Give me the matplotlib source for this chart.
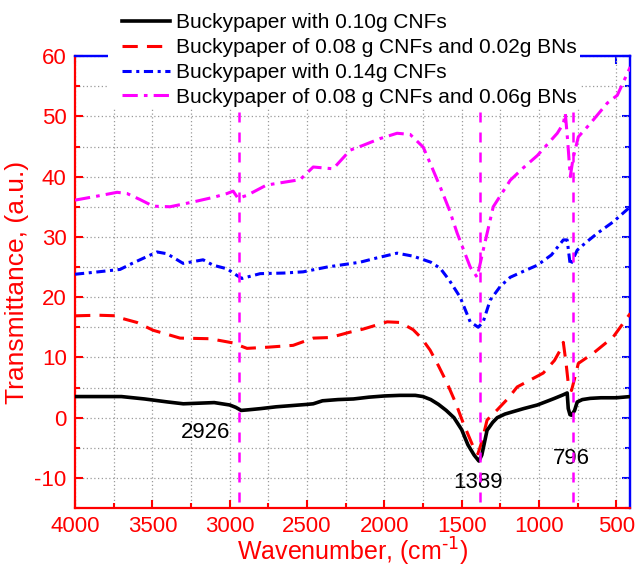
import matplotlib.pyplot as plt
from matplotlib.patches import Rectangle
from matplotlib.ticker import MultipleLocator

plt.rcParams['font.family'] = ['Liberation Sans', 'DejaVu Sans']
plt.rcParams['axes.unicode_minus'] = False

# black: Buckypaper with 0.10g CNFs
wn_black = [4000, 3850, 3700, 3550, 3400, 3300, 3200, 3100, 3000, 2960, 2926, 2880,
            2800, 2700, 2600, 2500, 2460, 2400, 2300, 2200, 2100, 2000, 1900, 1800,
            1750, 1700, 1650, 1600, 1550, 1500, 1460, 1420, 1389, 1370, 1336, 1300,
            1270, 1220, 1167, 1100, 1011, 950, 900, 843, 818, 811, 800, 790, 770,
            753, 720, 669, 600, 500, 410]
black = [3.5, 3.5, 3.5, 3.1, 2.6, 2.3, 2.4, 2.5, 2.1, 1.7, 1.2, 1.3,
         1.5, 1.8, 2.0, 2.2, 2.3, 2.8, 3.0, 3.1, 3.4, 3.6, 3.7, 3.7,
         3.5, 3.0, 2.2, 1.2, 0.0, -2.0, -4.5, -6.2, -7.2, -6.2, -2.1, -0.8,
         0.0, 0.6, 1.0, 1.5, 2.1, 2.7, 3.2, 3.8, 4.1, 1.5, 0.5, 0.4, 1.2,
         2.6, 3.0, 3.2, 3.3, 3.3, 3.5]

# red: Buckypaper of 0.08 g CNFs and 0.02g BNs
wn_red = [4000, 3850, 3728, 3700, 3600, 3495, 3400, 3321, 3127, 2978, 2940, 2888,
          2750, 2590, 2460, 2350, 2221, 2137, 1982, 1898, 1814, 1760, 1704, 1650,
          1594, 1540, 1490, 1426, 1395, 1370, 1336, 1270, 1200, 1141, 973, 900,
          863, 843, 825, 811, 790, 770, 746, 649, 520, 410]
red = [16.9, 17.0, 16.9, 16.5, 15.8, 14.5, 13.8, 13.2, 13.1, 12.4, 12.0, 11.5,
       11.7, 12.0, 13.2, 13.3, 14.2, 14.7, 15.9, 15.8, 14.6, 13.2, 11.2, 8.6,
       5.7, 2.5, -0.9, -4.8, -6.0, -4.0, -0.4, 1.3, 3.2, 5.1, 7.4, 9.5,
       11.2, 12.5, 9.0, 5.7, 4.5, 6.5, 9.0, 10.7, 13.4, 17.3]

# blue: Buckypaper with 0.14g CNFs
wn_blue = [4000, 3850, 3709, 3631, 3470, 3405, 3301, 3172, 3107, 3017, 2953, 2921,
           2803, 2650, 2525, 2370, 2157, 2050, 1918, 1814, 1700, 1639, 1580, 1510,
           1445, 1393, 1361, 1316, 1250, 1186, 1100, 1011, 920, 843, 818, 798,
           753, 700, 623, 520, 410]
blue = [23.8, 24.2, 24.6, 25.6, 27.5, 27.2, 25.6, 26.2, 25.3, 24.7, 23.6, 23.1,
        23.9, 24.0, 24.2, 25.0, 25.8, 26.5, 27.3, 26.8, 25.8, 24.8, 22.8, 20.0,
        15.9, 15.0, 15.9, 19.5, 21.8, 23.3, 24.3, 25.3, 27.0, 29.5, 29.5, 25.3,
        27.8, 29.0, 30.6, 32.5, 35.0]

# magenta: Buckypaper of 0.08 g CNFs and 0.06g BNs
wn_mag = [4000, 3850, 3728, 3664, 3580, 3495, 3386, 3236, 3100, 3017, 2978, 2946,
          2888, 2762, 2545, 2460, 2331, 2221, 2137, 2030, 1918, 1833, 1749, 1700,
          1639, 1580, 1529, 1445, 1400, 1361, 1296, 1186, 1100, 1011, 882, 843,
          830, 815, 798, 780, 746, 669, 559, 494, 410]
mag = [36.1, 36.8, 37.4, 37.2, 36.2, 35.1, 35.0, 35.8, 36.6, 37.2, 37.6, 36.4,
       36.9, 38.6, 39.5, 41.6, 41.3, 44.4, 45.2, 46.3, 47.2, 47.0, 44.9, 42.0,
       38.3, 34.5, 30.6, 25.0, 23.3, 27.8, 35.0, 39.4, 41.5, 43.5, 47.2, 48.8,
       50.5, 46.0, 40.0, 43.0, 46.6, 48.8, 52.2, 53.5, 58.2]

labels = ['Buckypaper with 0.10g CNFs',
          'Buckypaper of 0.08 g CNFs and 0.02g BNs',
          'Buckypaper with 0.14g CNFs',
          'Buckypaper of 0.08 g CNFs and 0.06g BNs']

peak_lines = [2940, 1382, 782]
peak_text = ['2926', '1389', '796']
peak_text_pos = [(3159, -2.5), (1393, -10.7), (791, -6.8)]

fig = plt.figure(figsize=(6.36, 5.67), dpi=100)
ax = fig.add_axes([0.118, 0.104, 0.873, 0.797])

ax.plot(wn_black, black, color='black', lw=2.6, label=labels[0], zorder=4)
ax.plot(wn_red, red, color='red', lw=2.2, dashes=(5, 3), label=labels[1], zorder=3)
ax.plot(wn_blue, blue, color='blue', lw=2.2, dashes=(3, 1.5, 1, 1.5), label=labels[2], zorder=3)
ax.plot(wn_mag, mag, color='magenta', lw=2.2, dashes=(5, 2, 1.2, 2), label=labels[3], zorder=3)

for xv in peak_lines:
    ax.plot([xv, xv], [50.8, -14.4], color='magenta', lw=1.8, dashes=(4, 4), zorder=5)
for t, (xt, yt) in zip(peak_text, peak_text_pos):
    ax.text(xt, yt, t, fontsize=16, ha='center', va='center', color='black')

ax.set_xlim(4000, 410)
ax.set_ylim(-15, 60)
ax.xaxis.set_major_locator(MultipleLocator(500))
ax.xaxis.set_minor_locator(MultipleLocator(250))
ax.yaxis.set_major_locator(MultipleLocator(10))
ax.yaxis.set_minor_locator(MultipleLocator(5))
ax.grid(which='both', color='#9a9a9a', linestyle=(0, (1, 2)), lw=0.9)

ax.tick_params(which='both', direction='in', colors='red', width=1.5,
               labelsize=16, top=False, right=False)
ax.tick_params(which='major', length=6)
ax.tick_params(which='minor', length=3.5)
ax.tick_params(axis='x', pad=6)
ax.tick_params(axis='y', pad=6)
for s in ['left', 'bottom']:
    ax.spines[s].set_color('red')
    ax.spines[s].set_linewidth(1.6)
for s in ['top', 'right']:
    ax.spines[s].set_color('blue')
    ax.spines[s].set_linewidth(1.6)

ax.set_xlabel(r'Wavenumber, (cm$^{\text{-}1}$)', fontsize=18, color='red', labelpad=-1)
ax.set_ylabel('Transmittance, (a.u.)', fontsize=19, color='red', labelpad=4)

# blue ticks on top and right
top = ax.secondary_xaxis('top')
top.xaxis.set_major_locator(MultipleLocator(500))
top.xaxis.set_minor_locator(MultipleLocator(250))
top.tick_params(which='both', direction='in', colors='blue', width=1.5, labeltop=False)
top.tick_params(which='major', length=6)
top.tick_params(which='minor', length=3.5)
top.spines['top'].set_color('blue')
top.spines['top'].set_linewidth(1.6)
right = ax.secondary_yaxis('right')
right.yaxis.set_major_locator(MultipleLocator(10))
right.yaxis.set_minor_locator(MultipleLocator(5))
right.tick_params(which='both', direction='in', colors='blue', width=1.5, labelright=False)
right.tick_params(which='major', length=6)
right.tick_params(which='minor', length=3.5)
right.spines['right'].set_color('blue')
right.spines['right'].set_linewidth(1.6)

# white block behind the legend, covering the top of the frame
fig.patches.append(Rectangle((108 / 636, 1 - 108 / 567), (580 - 108) / 636, 108 / 567,
                             transform=fig.transFigure, facecolor='white',
                             edgecolor='none', zorder=2))

leg = fig.legend(loc='upper left', bbox_to_anchor=(118 / 636, 1 - 9 / 567),
                 frameon=False, fontsize=15, handlelength=2.3, handletextpad=0.3,
                 labelspacing=0.28, borderpad=0.2, borderaxespad=0)
leg.set_zorder(3)

fig.savefig('out.png', dpi=100)
